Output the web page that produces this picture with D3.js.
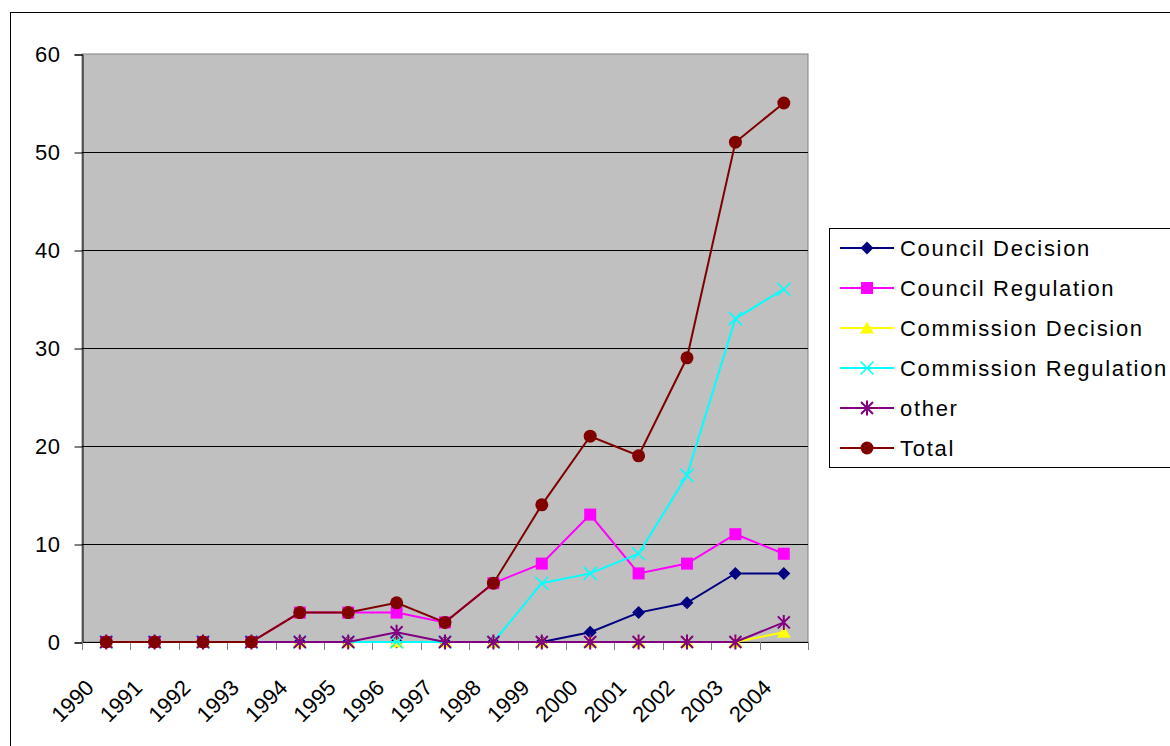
<!DOCTYPE html>
<html lang="en">
<head>
  <meta charset="UTF-8">
  <title>Acts per year</title>
  <script src="https://d3js.org/d3.v7.min.js"></script>
  <style>
    body { margin: 0; padding: 0; background: #fff; font-family: "Liberation Sans", Arial, sans-serif; }
    svg { display: block; }
    .tick-label { font-size: 22px; fill: #000; }
    .legend-label { font-size: 22px; fill: #000; letter-spacing: 1.7px; }
  </style>
</head>
<body>
  <div id="chart"></div>

  <script>
    const width = 1170;
    const height = 746;

    // data
    const years = ["1990", "1991", "1992", "1993", "1994", "1995", "1996", "1997",
                   "1998", "1999", "2000", "2001", "2002", "2003", "2004"];
    const councilDecision     = [0, 0, 0, 0, 0, 0, 0, 0, 0, 0, 1, 3, 4, 7, 7];
    const councilRegulation   = [0, 0, 0, 0, 3, 3, 3, 2, 6, 8, 13, 7, 8, 11, 9];
    const commissionDecision  = [0, 0, 0, 0, 0, 0, 0, 0, 0, 0, 0, 0, 0, 0, 1];
    const commissionRegulation = [0, 0, 0, 0, 0, 0, 0, 0, 0, 6, 7, 9, 17, 33, 36];
    const other               = [0, 0, 0, 0, 0, 0, 1, 0, 0, 0, 0, 0, 0, 0, 2];
    const total               = [0, 0, 0, 0, 3, 3, 4, 2, 6, 14, 21, 19, 29, 51, 55];
    const yTicks = [0, 10, 20, 30, 40, 50, 60];

    const series = [
      { name: "Council Decision", values: councilDecision, color: "#000080", marker: "diamond" },
      { name: "Council Regulation", values: councilRegulation, color: "#FF00FF", marker: "square" },
      { name: "Commission Decision", values: commissionDecision, color: "#FFFF00", marker: "triangle" },
      { name: "Commission Regulation", values: commissionRegulation, color: "#00FFFF", marker: "cross" },
      { name: "other", values: other, color: "#800080", marker: "star" },
      { name: "Total", values: total, color: "#800000", marker: "circle" }
    ];

    const plot = { left: 82, top: 54, right: 808, bottom: 642 };

    const svg = d3.select("#chart")
      .append("svg")
      .attr("width", width)
      .attr("height", height);

    // outer frame
    svg.append("rect")
      .attr("x", 10.5).attr("y", 12.5)
      .attr("width", width).attr("height", height)
      .attr("fill", "none").attr("stroke", "#000").attr("stroke-width", 1);

    const x = d3.scaleBand()
      .domain(years)
      .range([plot.left, plot.right]);

    const y = d3.scaleLinear()
      .domain([0, 60])
      .range([plot.bottom, plot.top]);

    // plot background
    svg.append("rect")
      .attr("x", plot.left).attr("y", plot.top)
      .attr("width", plot.right - plot.left).attr("height", plot.bottom - plot.top)
      .attr("fill", "#C0C0C0")
      .attr("stroke", "#808080").attr("stroke-width", 1);

    // gridlines
    svg.append("g")
      .selectAll("line")
      .data(yTicks.filter(d => d > 0 && d < 60))
      .enter()
      .append("line")
      .attr("x1", plot.left).attr("x2", plot.right)
      .attr("y1", d => Math.round(y(d)) + 0.5).attr("y2", d => Math.round(y(d)) + 0.5)
      .attr("stroke", "#000").attr("stroke-width", 1);

    // y axis
    const yAxis = svg.append("g")
      .attr("transform", `translate(${plot.left + 0.5},0.5)`)
      .call(d3.axisLeft(y).tickValues(yTicks).tickSize(8).tickPadding(14));
    yAxis.select(".domain").attr("stroke", "#000");
    yAxis.selectAll("text")
      .attr("class", "tick-label")
      .style("font-family", "'Liberation Sans', Arial, sans-serif")
      .style("font-size", "22px")
      .style("letter-spacing", "0.5px");

    // x axis line
    svg.append("line")
      .attr("x1", plot.left).attr("x2", plot.right)
      .attr("y1", plot.bottom + 0.5).attr("y2", plot.bottom + 0.5)
      .attr("stroke", "#000");

    // x ticks at category boundaries
    const bounds = years.map(d => x(d)).concat([x(years[years.length - 1]) + x.bandwidth()]);
    svg.append("g")
      .selectAll("line")
      .data(bounds)
      .enter()
      .append("line")
      .attr("x1", d => Math.round(d) + 0.5).attr("x2", d => Math.round(d) + 0.5)
      .attr("y1", plot.bottom).attr("y2", plot.bottom + 8)
      .attr("stroke", "#808080");

    // x labels
    svg.append("g")
      .selectAll("text")
      .data(years)
      .enter()
      .append("text")
      .attr("class", "tick-label")
      .attr("text-anchor", "end")
      .attr("transform", d => `translate(${x(d) + x.bandwidth() / 2 - 11},689) rotate(-45)`)
      .text(d => d);

    // markers
    function drawMarker(g, type, color, cx, cy) {
      if (type === "diamond") {
        g.append("path")
          .attr("d", `M${cx},${cy - 6.5}L${cx + 6.5},${cy}L${cx},${cy + 6.5}L${cx - 6.5},${cy}Z`)
          .attr("fill", color);
      } else if (type === "square") {
        g.append("rect")
          .attr("x", cx - 6).attr("y", cy - 6)
          .attr("width", 12).attr("height", 12)
          .attr("fill", color);
      } else if (type === "triangle") {
        g.append("path")
          .attr("d", `M${cx},${cy - 6.5}L${cx + 7},${cy + 5.5}L${cx - 7},${cy + 5.5}Z`)
          .attr("fill", color);
      } else if (type === "cross") {
        g.append("path")
          .attr("d", `M${cx - 6.5},${cy - 6.5}L${cx + 6.5},${cy + 6.5}M${cx + 6.5},${cy - 6.5}L${cx - 6.5},${cy + 6.5}`)
          .attr("stroke", color).attr("stroke-width", 1.5).attr("fill", "none");
      } else if (type === "star") {
        g.append("path")
          .attr("d", `M${cx - 6},${cy - 6}L${cx + 6},${cy + 6}M${cx + 6},${cy - 6}L${cx - 6},${cy + 6}M${cx},${cy - 7.5}L${cx},${cy + 7.5}`)
          .attr("stroke", color).attr("stroke-width", 2).attr("fill", "none");
      } else if (type === "circle") {
        g.append("circle")
          .attr("cx", cx).attr("cy", cy).attr("r", 6.5)
          .attr("fill", color);
      }
    }

    const line = d3.line()
      .x((d, i) => x(years[i]) + x.bandwidth() / 2)
      .y(d => y(d));

    series.forEach(s => {
      const g = svg.append("g");
      g.append("path")
        .datum(s.values)
        .attr("d", line)
        .attr("fill", "none")
        .attr("stroke", s.color)
        .attr("stroke-width", 2);
      s.values.forEach((v, i) => {
        drawMarker(g, s.marker, s.color, x(years[i]) + x.bandwidth() / 2, y(v));
      });
    });

    // legend
    const legend = svg.append("g");
    legend.append("rect")
      .attr("x", 829.5).attr("y", 228.5)
      .attr("width", 360).attr("height", 239)
      .attr("fill", "#fff").attr("stroke", "#000");

    series.forEach((s, i) => {
      const ly = 248 + i * 40;
      legend.append("line")
        .attr("x1", 840).attr("x2", 894)
        .attr("y1", ly).attr("y2", ly)
        .attr("stroke", s.color).attr("stroke-width", 2);
      drawMarker(legend, s.marker, s.color, 867, ly);
      legend.append("text")
        .attr("class", "legend-label")
        .attr("x", 900).attr("y", ly + 8)
        .text(s.name);
    });
  </script>
</body>
</html>
